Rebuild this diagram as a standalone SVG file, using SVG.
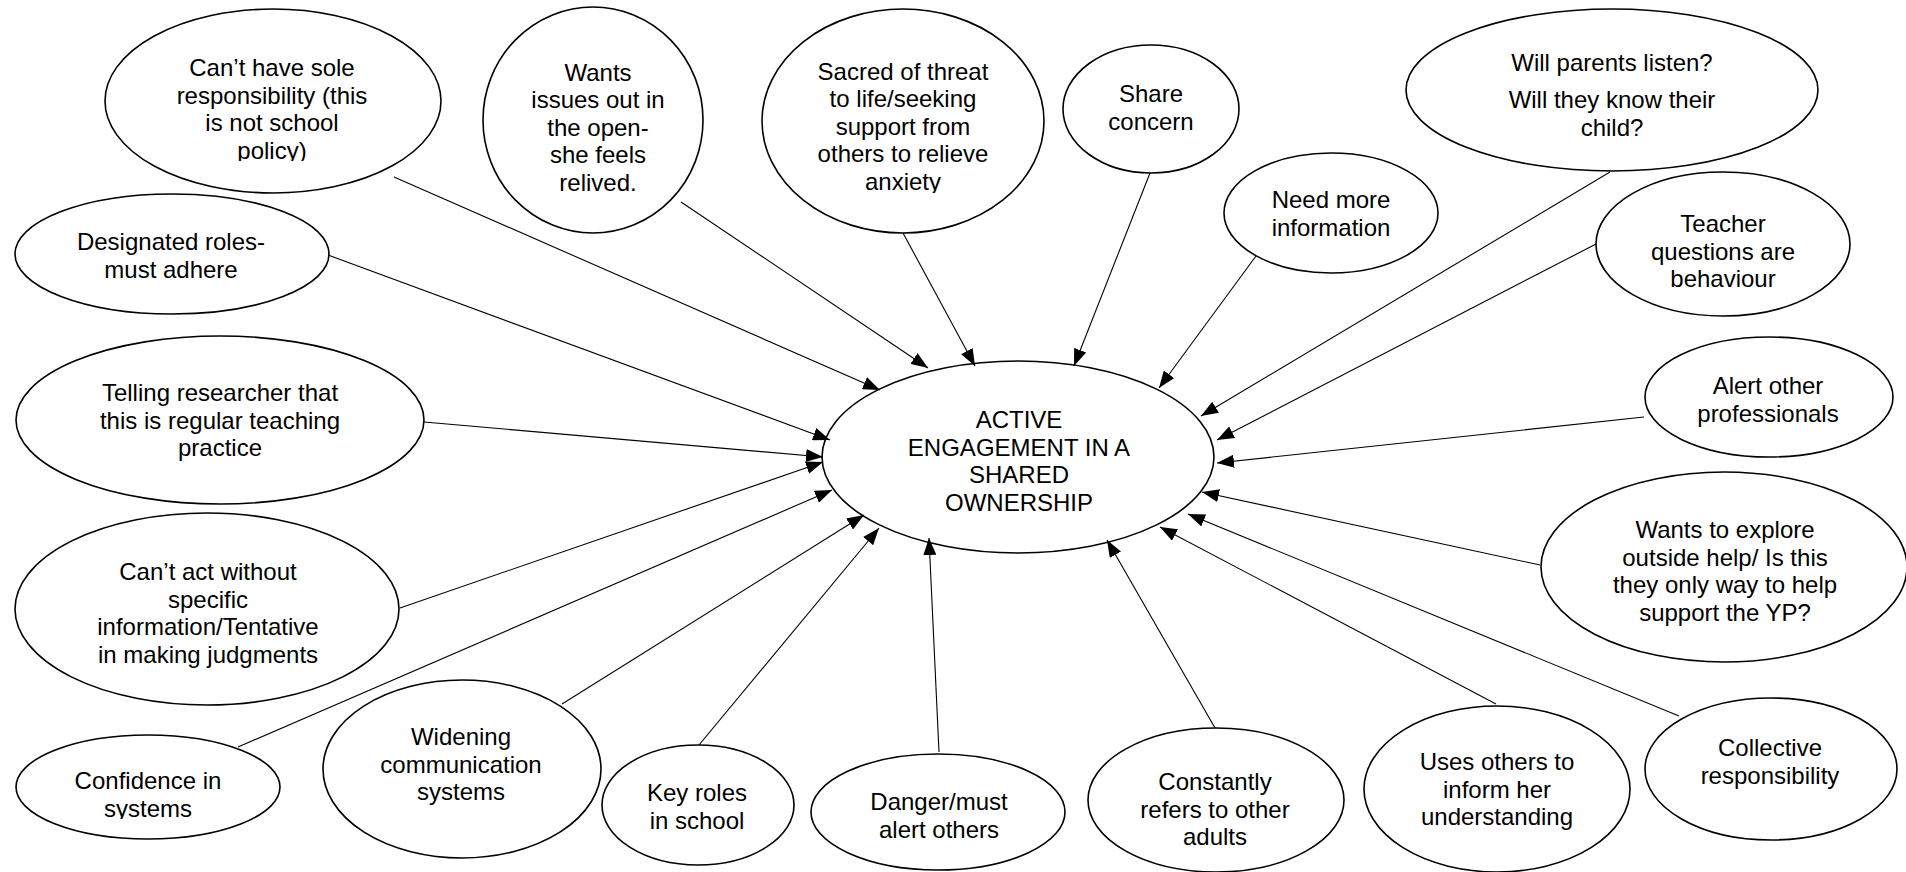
<svg xmlns="http://www.w3.org/2000/svg" width="1906" height="872" viewBox="0 0 1906 872">
  <defs>
    <style>
      .node ellipse { fill: #ffffff; stroke: #000000; stroke-width: 1.6; }
      .node text { font-family: "Liberation Sans", Arial, sans-serif; font-size: 24px; text-anchor: middle; fill: #000000; }
      .edges line { stroke: #000000; stroke-width: 1.1; fill: none; marker-end: url(#arrow); }
    </style>
    <marker id="arrow" viewBox="0 0 17 13" markerWidth="17" markerHeight="13" markerUnits="userSpaceOnUse" refX="17" refY="6.5" orient="auto">
      <path d="M0,0 L17,6.5 L0,13 Z" fill="#000000"/>
    </marker>
    <!-- text boxes that cut off their last line -->
    <clipPath id="clip-sole"><rect x="100" y="0" width="350" height="161"/></clipPath>
    <clipPath id="clip-sacred"><rect x="760" y="0" width="290" height="193"/></clipPath>
    <clipPath id="clip-confidence"><rect x="10" y="730" width="280" height="89"/></clipPath>
  </defs>

  <rect width="1906" height="872" fill="#ffffff"/>

  <!-- central theme -->
  <g id="node-active" class="node">
    <ellipse cx="1018" cy="457" rx="196" ry="96"/>
    <text><tspan x="1019" y="428">ACTIVE</tspan><tspan x="1019" y="455.5">ENGAGEMENT IN A</tspan><tspan x="1019" y="483">SHARED</tspan><tspan x="1019" y="510.5">OWNERSHIP</tspan></text>
  </g>

  <g id="node-sole" class="node">
    <ellipse cx="273" cy="101" rx="168" ry="92"/>
    <text clip-path="url(#clip-sole)"><tspan x="272" y="76">Can’t have sole</tspan><tspan x="272" y="103.5">responsibility (this</tspan><tspan x="272" y="131">is not school</tspan><tspan x="272" y="158.5">policy)</tspan></text>
  </g>

  <g id="node-open" class="node">
    <ellipse cx="593" cy="120" rx="110" ry="113"/>
    <text><tspan x="598" y="80.5">Wants</tspan><tspan x="598" y="108">issues out in</tspan><tspan x="598" y="135.5">the open-</tspan><tspan x="598" y="163">she feels</tspan><tspan x="598" y="190.5">relived.</tspan></text>
  </g>

  <g id="node-sacred" class="node">
    <ellipse cx="903" cy="121" rx="141" ry="112"/>
    <text clip-path="url(#clip-sacred)"><tspan x="903" y="79.5">Sacred of threat</tspan><tspan x="903" y="107">to life/seeking</tspan><tspan x="903" y="134.5">support from</tspan><tspan x="903" y="162">others to relieve</tspan><tspan x="903" y="189.5">anxiety</tspan></text>
  </g>

  <g id="node-share" class="node">
    <ellipse cx="1151" cy="109" rx="88" ry="64"/>
    <text><tspan x="1151" y="102">Share</tspan><tspan x="1151" y="129.5">concern</tspan></text>
  </g>

  <g id="node-info" class="node">
    <ellipse cx="1331" cy="213" rx="107" ry="60"/>
    <text><tspan x="1331" y="208">Need more</tspan><tspan x="1331" y="235.5">information</tspan></text>
  </g>

  <g id="node-parents" class="node">
    <ellipse cx="1612" cy="90" rx="206" ry="81"/>
    <text><tspan x="1612" y="71">Will parents listen?</tspan><tspan x="1612" y="108">Will they know their</tspan><tspan x="1612" y="135.5">child?</tspan></text>
  </g>

  <g id="node-teacher" class="node">
    <ellipse cx="1723" cy="244" rx="127" ry="72"/>
    <text><tspan x="1723" y="232">Teacher</tspan><tspan x="1723" y="259.5">questions are</tspan><tspan x="1723" y="287">behaviour</tspan></text>
  </g>

  <g id="node-designated" class="node">
    <ellipse cx="172" cy="254" rx="157" ry="60"/>
    <text><tspan x="171" y="250">Designated roles-</tspan><tspan x="171" y="277.5">must adhere</tspan></text>
  </g>

  <g id="node-telling" class="node">
    <ellipse cx="220" cy="420" rx="204" ry="84"/>
    <text><tspan x="220" y="401">Telling researcher that</tspan><tspan x="220" y="428.5">this is regular teaching</tspan><tspan x="220" y="456">practice</tspan></text>
  </g>

  <g id="node-act" class="node">
    <ellipse cx="207" cy="609" rx="192" ry="96"/>
    <text><tspan x="208" y="580">Can’t act without</tspan><tspan x="208" y="607.5">specific</tspan><tspan x="208" y="635">information/Tentative</tspan><tspan x="208" y="662.5">in making judgments</tspan></text>
  </g>

  <g id="node-confidence" class="node">
    <ellipse cx="148" cy="787" rx="132" ry="52"/>
    <text clip-path="url(#clip-confidence)"><tspan x="148" y="789">Confidence in</tspan><tspan x="148" y="816.5">systems</tspan></text>
  </g>

  <g id="node-widening" class="node">
    <ellipse cx="462" cy="769" rx="139" ry="89"/>
    <text><tspan x="461" y="745">Widening</tspan><tspan x="461" y="772.5">communication</tspan><tspan x="461" y="800">systems</tspan></text>
  </g>

  <g id="node-keyroles" class="node">
    <ellipse cx="698" cy="805" rx="96" ry="60"/>
    <text><tspan x="697" y="801">Key roles</tspan><tspan x="697" y="828.5">in school</tspan></text>
  </g>

  <g id="node-danger" class="node">
    <ellipse cx="938" cy="812" rx="127" ry="58"/>
    <text><tspan x="939" y="810">Danger/must</tspan><tspan x="939" y="837.5">alert others</tspan></text>
  </g>

  <g id="node-adults" class="node">
    <ellipse cx="1216" cy="800" rx="128" ry="72"/>
    <text><tspan x="1215" y="790">Constantly</tspan><tspan x="1215" y="817.5">refers to other</tspan><tspan x="1215" y="845">adults</tspan></text>
  </g>

  <g id="node-uses" class="node">
    <ellipse cx="1497" cy="789" rx="133" ry="83"/>
    <text><tspan x="1497" y="770">Uses others to</tspan><tspan x="1497" y="797.5">inform her</tspan><tspan x="1497" y="825">understanding</tspan></text>
  </g>

  <g id="node-collective" class="node">
    <ellipse cx="1771" cy="769" rx="126" ry="71"/>
    <text><tspan x="1770" y="756">Collective</tspan><tspan x="1770" y="783.5">responsibility</tspan></text>
  </g>

  <g id="node-alert" class="node">
    <ellipse cx="1769" cy="397" rx="124" ry="60"/>
    <text><tspan x="1768" y="394">Alert other</tspan><tspan x="1768" y="421.5">professionals</tspan></text>
  </g>

  <g id="node-explore" class="node">
    <ellipse cx="1724" cy="567" rx="183" ry="95"/>
    <text><tspan x="1725" y="538">Wants to explore</tspan><tspan x="1725" y="565.5">outside help/ Is this</tspan><tspan x="1725" y="593">they only way to help</tspan><tspan x="1725" y="620.5">support the YP?</tspan></text>
  </g>

  <!-- every idea points in to the central theme -->
  <g id="connectors" class="edges">
    <line x1="394" y1="177" x2="880" y2="390"/>
    <line x1="681" y1="202" x2="928" y2="368"/>
    <line x1="903" y1="233" x2="975" y2="366"/>
    <line x1="1150" y1="173" x2="1074" y2="366"/>
    <line x1="1256" y1="256" x2="1159" y2="388"/>
    <line x1="1610" y1="172" x2="1201" y2="416"/>
    <line x1="1596" y1="244" x2="1217" y2="440"/>
    <line x1="1644" y1="417" x2="1217" y2="463"/>
    <line x1="1540" y1="565" x2="1202" y2="492"/>
    <line x1="1679" y1="716" x2="1188" y2="514"/>
    <line x1="1496" y1="704" x2="1160" y2="527"/>
    <line x1="1215" y1="728" x2="1107" y2="540"/>
    <line x1="939" y1="752" x2="929" y2="538"/>
    <line x1="699" y1="745" x2="879" y2="528"/>
    <line x1="562" y1="704" x2="864" y2="515"/>
    <line x1="238" y1="747" x2="832" y2="490"/>
    <line x1="400" y1="608" x2="823" y2="462"/>
    <line x1="424" y1="422" x2="823" y2="457"/>
    <line x1="328" y1="255" x2="830" y2="440"/>
  </g>
</svg>
